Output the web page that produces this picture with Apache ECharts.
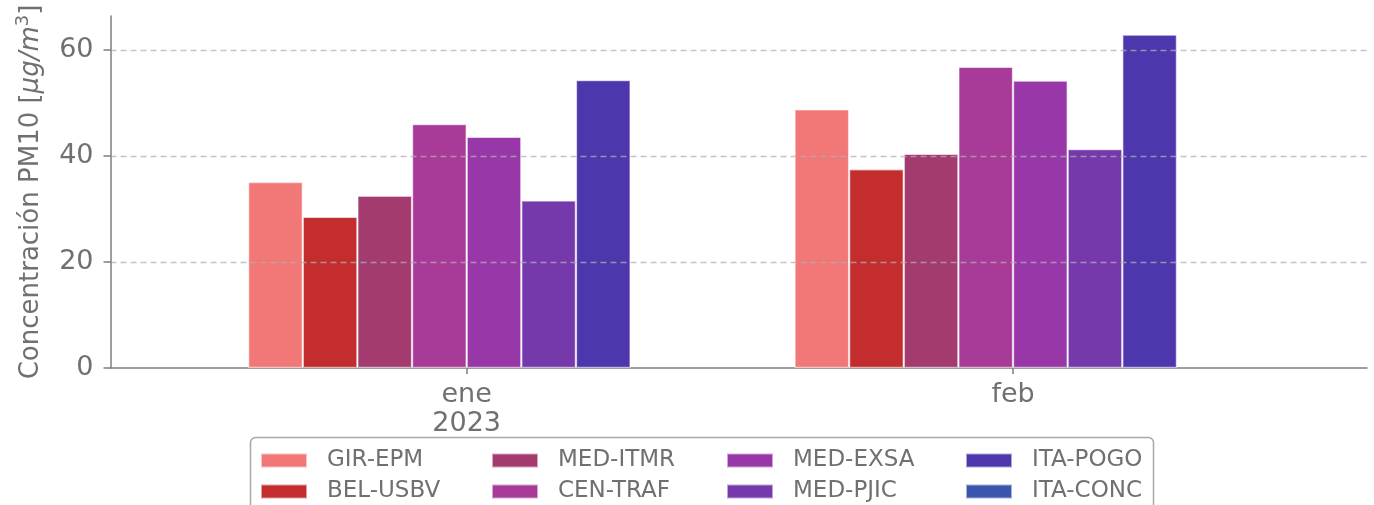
<!DOCTYPE html>
<html>
<head>
<meta charset="utf-8">
<script src="https://cdn.jsdelivr.net/npm/echarts@6/dist/echarts.min.js"></script>
<style>html,body{margin:0;padding:0;background:#fff;}#c{width:1374px;height:505px;}</style>
</head>
<body>
<div id="c"></div>
<script>
const categories = ['ene', 'feb'];
const xTickLabels = ['ene\n2023', 'feb'];
const stations = ['GIR-EPM', 'BEL-USBV', 'MED-ITMR', 'CEN-TRAF', 'MED-EXSA', 'MED-PJIC', 'ITA-POGO', 'ITA-CONC'];
const colors = ['#f27777', '#c42d2d', '#a33b6f', '#a83a98', '#9838a8', '#7539ac', '#4e37ad', '#3a55ad'];
const GIR_EPM = [35.1, 48.8];
const BEL_USBV = [28.5, 37.5];
const MED_ITMR = [32.5, 40.4];
const CEN_TRAF = [46.0, 56.8];
const MED_EXSA = [43.6, 54.2];
const MED_PJIC = [31.6, 41.3];
const ITA_POGO = [54.3, 62.9];
const ITA_CONC = [null, null];
const seriesValues = [GIR_EPM, BEL_USBV, MED_ITMR, CEN_TRAF, MED_EXSA, MED_PJIC, ITA_POGO, ITA_CONC];
const yTicks = [0, 20, 40, 60];

const txt = '#707070';
const axisCol = '#7f7f7f';
const font = 'DejaVu Sans';
const yMin = 0, yMax = 66.4;

const chart = echarts.init(document.getElementById('c'), null, {renderer: 'canvas'});

const series = stations.map((name, i) => ({
  name: name,
  type: 'bar',
  xAxisIndex: 1,
  yAxisIndex: 1,
  data: seriesValues[i],
  barGap: '0%',
  barCategoryGap: '20%',
  itemStyle: {color: colors[i], borderColor: 'rgba(255,255,255,0.55)', borderWidth: 1.2},
  z: 2
}));

const legendLeft = [260, 491, 726, 965];
const legendTop = [449, 480];
const legends = stations.map((name, i) => ({
  left: legendLeft[Math.floor(i / 2)],
  top: legendTop[i % 2],
  padding: 0,
  itemWidth: 46,
  itemHeight: 14,
  icon: 'rect',
  selectedMode: false,
  data: [name],
  textStyle: {color: txt, fontSize: 23, fontFamily: font, lineHeight: 14, padding: [0, 0, 0, 15]}
}));

chart.setOption({
  animation: false,
  textStyle: {fontFamily: font},
  grid: [
    {left: 110.5, right: 7, top: 16, height: 352, containLabel: false},
    {left: 193.5, right: 87.8, top: 16, height: 352, containLabel: false}
  ],
  graphic: [{
    type: 'rect',
    shape: {x: 250.5, y: 437.5, width: 903, height: 90, r: 5},
    style: {fill: '#ffffff', stroke: '#a8a8a8', lineWidth: 1.5},
    z: 0
  }],
  legend: legends,
  xAxis: [
    {
      type: 'value', gridIndex: 0, min: 0, max: 1,
      axisLine: {show: true, lineStyle: {color: axisCol, width: 1.5}},
      axisTick: {show: false}, axisLabel: {show: false}, splitLine: {show: false}
    },
    {
      type: 'category', gridIndex: 1, data: categories,
      axisLine: {show: false},
      axisTick: {show: true, alignWithLabel: true, length: 6, lineStyle: {color: axisCol, width: 1.5}},
      axisLabel: {
        color: txt, fontSize: 27, fontFamily: font, lineHeight: 29, margin: 12,
        formatter: (v, i) => xTickLabels[i]
      },
      splitLine: {show: false}
    }
  ],
  yAxis: [
    {
      type: 'value', gridIndex: 0, min: yMin, max: yMax, interval: 20,
      z: 5,
      axisLine: {show: true, lineStyle: {color: axisCol, width: 1.5}},
      axisTick: {show: true, length: 7, customValues: yTicks, lineStyle: {color: axisCol, width: 1.5}},
      axisLabel: {
        color: txt, fontSize: 27, fontFamily: font, margin: 17,
        customValues: yTicks,
        formatter: v => String(v)
      },
      splitLine: {show: true, showMinLine: false, showMaxLine: true, lineStyle: {color: 'rgba(176,176,176,0.75)', width: 1.3, type: [6, 4]}},
      name: 'Concentración PM10 [{it|μg/m}{sup|3}]',
      nameLocation: 'middle',
      nameGap: 56,
      nameTextStyle: {
        color: txt, fontSize: 26, fontFamily: font, lineHeight: 34,
        rich: {
          it: {fontStyle: 'italic', fontSize: 26, color: txt, fontFamily: font, lineHeight: 34},
          sup: {fontSize: 18, color: txt, fontFamily: font, lineHeight: 18, verticalAlign: 'top'}
        }
      }
    },
    {
      type: 'value', gridIndex: 1, min: yMin, max: yMax, show: false,
      splitLine: {show: false}
    }
  ],
  series: series
});
</script>
</body>
</html>
